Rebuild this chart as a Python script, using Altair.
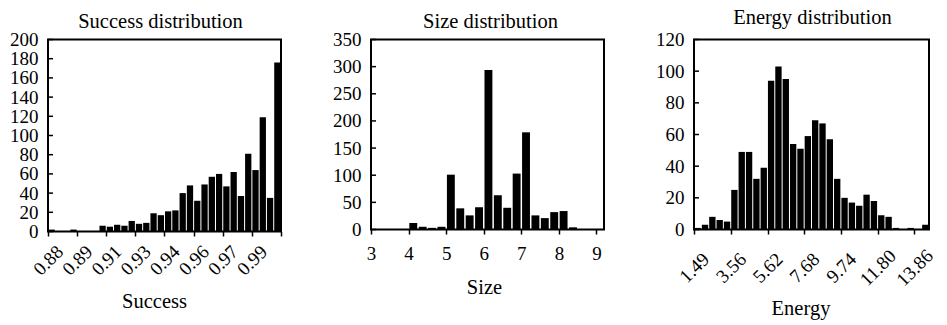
import altair as alt
import pandas as pd

FONT = "Liberation Serif"

# ---- data ----
success_counts = [2, 0, 0, 2, 0, 0, 0, 6, 5, 7, 6, 11, 8, 9, 19, 17,
                  21, 22, 40, 48, 32, 49, 57, 60, 47, 62, 37, 81, 64, 119, 35, 176]
success_range = [0.88, 1.00]
success_ticks = [0.88, 0.895, 0.91, 0.925, 0.94, 0.955, 0.97, 0.985, 1.00]
success_tick_labels = ["0.88", "0.89", "0.91", "0.93", "0.94", "0.96", "0.97", "0.99", ""]
success_yticks = [0, 20, 40, 60, 80, 100, 120, 140, 160, 180, 200]

size_counts = [12, 5, 3, 5, 101, 39, 26, 41, 294, 63, 40, 103, 179, 26, 21, 32, 34, 4]
size_first_bin = 4.0
size_bin_width = 0.25
size_domain = [3, 9.2]
size_ticks = [3, 4, 5, 6, 7, 8, 9]
size_tick_labels = ["3", "4", "5", "6", "7", "8", "9"]
size_yticks = [0, 50, 100, 150, 200, 250, 300, 350]

energy_counts = [1, 3, 8, 6, 5, 25, 49, 49, 32, 39, 94, 103, 95, 54, 51, 59,
                 69, 67, 57, 32, 20, 17, 15, 22, 18, 9, 8, 1, 0, 1, 0, 3]
energy_tick_labels = ["1.49", "3.56", "5.62", "7.68", "9.74", "11.80", "13.86"]
energy_bins_per_tick = 5
energy_yticks = [0, 20, 40, 60, 80, 100, 120]


def bins_df(counts, start, width):
    return pd.DataFrame({
        "x0": [start + i * width for i in range(len(counts))],
        "x1": [start + (i + 1) * width for i in range(len(counts))],
        "count": counts,
    })


def label_expr(values, labels):
    vals = ",".join(repr(float(v)) for v in values)
    labs = ",".join("'" + l + "'" for l in labels)
    return f"[{labs}][indexof([{vals}], datum.value)]"


def panel(df, title, title_dx, title_offset, xtitle, xdomain, xticks, xlabels,
          ymax, yticks, width, height, angle, label_pad, title_x, title_y, gap):
    xaxis = alt.Axis(
        values=xticks, labelExpr=label_expr(xticks, xlabels), title=xtitle,
        labelAngle=angle, labelAlign="center", labelBaseline="middle",
        labelPadding=label_pad, labelOverlap=False, labelFlush=False, labelBound=False,
        tickSize=4.5, tickWidth=1.5, tickColor="black", domain=False, grid=False,
        titleX=title_x, titleY=title_y, titleAlign="center", titleBaseline="alphabetic",
    )
    yaxis = alt.Axis(
        values=yticks, title=None, ticks=False, tickSize=0, labelPadding=10,
        labelOverlap=False, labelFlush=False, domain=False, grid=False,
        labelAlign="right", labelBaseline="middle",
    )
    yscale = alt.Scale(domain=[0, ymax], nice=False)
    bars = alt.Chart(df).mark_rect(color="black", xOffset=gap, x2Offset=-gap).encode(
        x=alt.X("x0:Q", scale=alt.Scale(domain=xdomain, nice=False, zero=False), axis=xaxis),
        x2="x1:Q",
        y=alt.Y("count:Q", scale=yscale, axis=yaxis),
        y2=alt.datum(0),
    )
    inward = alt.Chart(pd.DataFrame({"v": yticks})).mark_rule(
        color="black", strokeWidth=1.5
    ).encode(
        y=alt.Y("v:Q", scale=yscale, axis=yaxis),
        x=alt.value(0), x2=alt.value(5),
    )
    return alt.layer(bars, inward).properties(
        width=width, height=height,
        title=alt.TitleParams(title, font=FONT, fontSize=20.5, fontWeight="normal",
                              color="black", baseline="alphabetic", offset=title_offset,
                              anchor="middle", dx=title_dx),
    )


succ_w = (success_range[1] - success_range[0]) / len(success_counts)
p1 = panel(bins_df(success_counts, success_range[0], succ_w),
           "Success distribution", -4, -18.2, "Success", success_range,
           success_ticks, success_tick_labels, 200, success_yticks,
           233, 192, -45, 24, 106, 75.5, 0.5)

p2 = panel(bins_df(size_counts, size_first_bin, size_bin_width),
           "Size distribution", 3, -18.2, "Size", size_domain,
           size_ticks, size_tick_labels, 350, size_yticks,
           233, 190, 0, 19, 113, 64, 0.75)

energy_ticks = [float(l) for l in energy_tick_labels]
en_w = (energy_ticks[-1] - energy_ticks[0]) / ((len(energy_ticks) - 1) * energy_bins_per_tick)
en_domain = [energy_ticks[0], energy_ticks[0] + len(energy_counts) * en_w]
p3 = panel(bins_df(energy_counts, energy_ticks[0], en_w),
           "Energy distribution", 1, -14, "Energy", en_domain,
           energy_ticks, energy_tick_labels, 120, energy_yticks,
           235, 190, -45, 33.5, 106.5, 85, 0.5)

chart = alt.hconcat(p1, p2, p3, spacing=90, bounds="flush").properties(
    padding={"left": 8, "top": 6.5, "right": 0, "bottom": 0},
    background="white",
).configure_view(
    stroke="black", strokeWidth=2,
).configure_axis(
    labelFont=FONT, labelFontSize=19, labelColor="black",
    titleFont=FONT, titleFontSize=20.5, titleFontWeight="normal", titleColor="black",
)

chart.save("out.html", embed_options={"renderer": "svg", "actions": False})
